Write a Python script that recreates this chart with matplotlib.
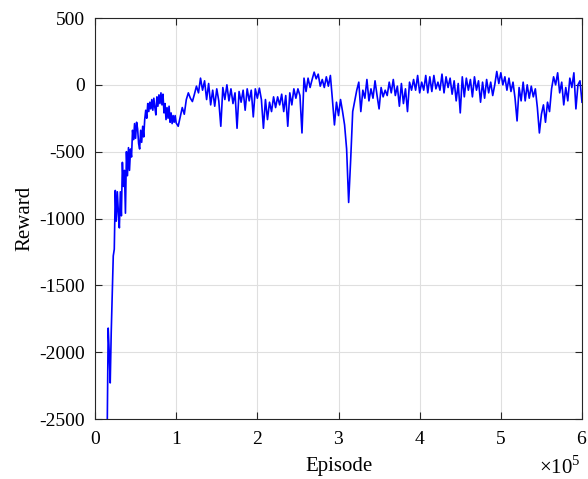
import numpy as np
import matplotlib
matplotlib.use("Agg")
from matplotlib import pyplot as plt
from matplotlib.ticker import ScalarFormatter

plt.rcParams['font.family'] = ['Liberation Serif', 'DejaVu Serif']
plt.rcParams['mathtext.fontset'] = 'custom'
plt.rcParams['mathtext.rm'] = 'Liberation Serif'
plt.rcParams['axes.unicode_minus'] = False

# early stage sampled every 1250 episodes, the rest every 2500
episodes_early = np.arange(15000, 99000, 1250)
episodes_rest = np.arange(100000, 600001, 2500)

# reward, split by stage
reward_early = [-2600, -1820, -2000, -2230, -1850, -1550, -1280, -1230, -790, -1020,
                -800, -950, -1070, -800, -980, -580, -760, -640, -960, -500,
                -680, -470, -640, -480, -540, -340, -410, -290, -400, -280,
                -330, -440, -480, -340, -430, -310, -390, -260, -190, -250,
                -140, -200, -130, -180, -110, -190, -100, -170, -225, -90,
                -160, -75, -140, -60, -150, -70, -210, -140, -260, -170,
                -250, -160, -280, -210, -290, -230, -280, -230]
reward_mid1 = [-285, -310, -240, -170, -220, -110, -60, -100, -125, -70, -10,
               -60, 50, -40, 30, -110, 10, -150, -40, -160, -30,
               -120, -310, -20, -110, 0, -120, -30, -140, -60, -325,
               -50, -130, -40, -190, -30, -120, -40, -240, -30, -100,
               -25, -110, -325, -110, -260, -130, -200, -90, -170, -90,
               -150, -70, -200, -80, -310, -60, -150, -30, -100, -30,
               -80, -360, 50, -50, 50, -20]
reward_mid2 = [40, 95, 45, 80, -10, 40, -20, 60, -10, 70,
               -110, -300, -130, -230, -110, -200, -300, -480, -880, -560,
               -200, -120, -40, 20, -200, -40, -100, 40, -120, -30,
               -100, 30, -80, -180, -20, -90, -40, -80, 20, -60,
               40, -80, -10, -160, 10, -140, -30, -200, 20, -40,
               40, -40, 70, -60, 20, -40, 70, -60, 60, -50,
               70, -30, 20, -40]
reward_late = [80, -60, 60, -20, 50, -70, 30, -120, 10, -210,
               60, -90, 50, -40, 40, -90, 60, -40, 30, -130,
               20, -100, 40, -60, 20, -80, 0, 100, 10, 90,
               0, 60, -40, 50, -50, 20, -100, -270, -20, -120,
               20, -120, 0, -100, -10, -90, -30, -170, -360, -220,
               -150, -280, -130, -200, -30, 60, 0, 90, -60, 20,
               -150, -20, -120, 50, -20, 90, -180, 0, 30, -130]

episodes = np.concatenate([episodes_early, episodes_rest])
reward = np.array(reward_early + reward_mid1 + reward_mid2 + reward_late)

fig = plt.figure(figsize=(5.88, 4.79), dpi=100)
ax = fig.add_axes([95/588, 60/479, 487/588, 401/479])

ax.plot(episodes, reward, color=(0, 0, 1), lw=1.2)

ax.set_xlim(0, 600000)
ax.set_ylim(-2500, 500)
ax.set_xticks(np.arange(0, 600001, 100000))
ax.set_yticks(np.arange(-2500, 501, 500))

# tick labels in units of 1e5, exponent written separately like matlab does
fmt = ScalarFormatter(useMathText=True)
fmt.set_powerlimits((0, 0))
ax.xaxis.set_major_formatter(fmt)
ax.xaxis.get_offset_text().set_visible(False)
ax.text(0.998, -0.092, r'$\times10^5$', transform=ax.transAxes,
        ha='right', va='top', fontsize=15)

ax.grid(True, color='#dfdfdf', lw=0.8)
ax.set_axisbelow(True)
ax.tick_params(direction='in', top=True, right=True, length=5, width=0.8,
               labelsize=14, colors='#262626', labelcolor='black')
ax.tick_params(axis='x', pad=9)
ax.tick_params(axis='y', pad=7)
for s in ax.spines.values():
    s.set_color('#262626')
    s.set_linewidth(0.8)

ax.set_xlabel('Episode', fontsize=15, labelpad=6)
ax.set_ylabel('Reward', fontsize=15, labelpad=4)

fig.savefig('out.png', dpi=100)
